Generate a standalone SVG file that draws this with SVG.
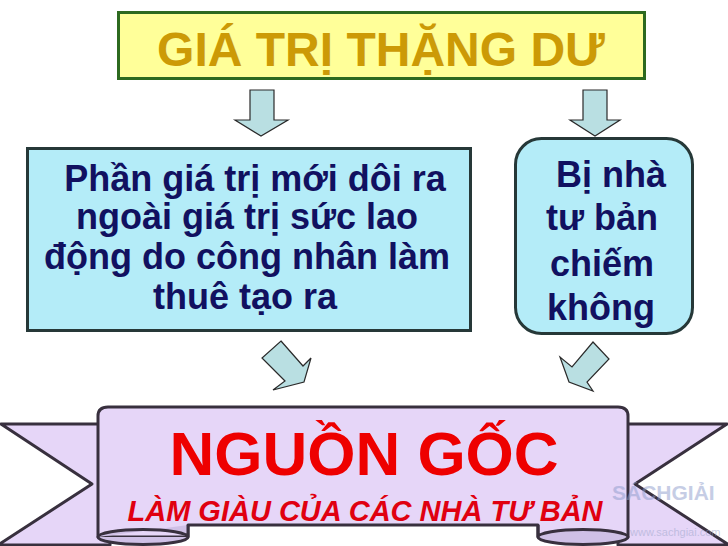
<svg xmlns="http://www.w3.org/2000/svg" width="728" height="546" viewBox="0 0 728 546">
<style>
.t{font-family:"Liberation Sans",Arial,sans-serif;font-weight:bold}
.box{fill:#b4ecf8;stroke:#263838;stroke-width:3}
.txt{fill:#111160;font-size:36px;text-anchor:middle}
.arr{fill:#b9dfe2;stroke:#2a2a2a;stroke-width:1.2;stroke-linejoin:miter}
.rib{fill:#e6d6f8;stroke:#38303e;stroke-width:3;stroke-linejoin:round}
.roll{fill:#cfc0e6;stroke:#38303e;stroke-width:3}
</style>
<rect width="728" height="546" fill="#ffffff"/>

<g id="title">
<rect x="118.5" y="12.5" width="526" height="66" fill="#ffff99" stroke="#2d6a1f" stroke-width="3"/>
<text class="t" x="381" y="66" font-size="48" fill="#cc9a06" text-anchor="middle">GIÁ TRỊ THẶNG DƯ</text>
</g>

<g id="connectors">
<polygon class="arr" points="250,90 274,90 274,120 288,120 261,136 235,120 250,120"/>
<polygon class="arr" points="583,90 607,90 607,120 620,120 595,136 570,120 583,120"/>
<polygon class="arr" points="281,341 303,366 311,358 304,382 273,390 285,381 262,358"/>
<polygon class="arr" points="593,342 609,359 587,382 593,391 569,382 560,357 572,367"/>
</g>

<g id="def">
<rect class="box" x="27.5" y="148.5" width="443" height="182"/>
<text class="t txt" x="255" y="191">Phần giá trị mới dôi ra</text>
<text class="t txt" x="247" y="229">ngoài giá trị sức lao</text>
<text class="t txt" x="247" y="269">động do công nhân làm</text>
<text class="t txt" x="245" y="309">thuê tạo ra</text>
</g>

<g id="owner">
<rect class="box" x="515.5" y="138.5" width="177" height="195" rx="26" ry="26"/>
<text class="t txt" x="611" y="187">Bị nhà</text>
<text class="t txt" x="602" y="230">tư bản</text>
<text class="t txt" x="602" y="276">chiếm</text>
<text class="t txt" x="601" y="320">không</text>
</g>

<g id="origin">
<polygon class="rib" points="1,424 110,424 110,545 -2,545 92,484"/>
<polygon class="rib" points="727,424 618,424 618,545 729,545 635,484"/>
<path class="rib" d="M98,537 L98,416 Q98,407 108,407 L618,407 Q628,407 628,416 L628,537 L538,537 L538,525 L188,525 L188,537 Z"/>
<path class="roll" d="M98,537 A45,7.5 0 0 0 188,537 L188,525 M98,537 A45,7.5 0 0 1 188,537"/>
<path class="roll" d="M538,537 A45,7.5 0 0 0 628,537 M538,537 A45,7.5 0 0 1 628,537 M538,525 L538,537"/>
<text class="t" x="364" y="475" font-size="62" fill="#ee0000" text-anchor="middle">NGUỒN GỐC</text>
<text class="t" x="365" y="521" font-size="29" font-style="italic" fill="#e00010" text-anchor="middle">LÀM GIÀU CỦA CÁC NHÀ TƯ BẢN</text>
</g>

<g id="watermark" opacity="0.5">
<text class="t" x="612" y="500" font-size="21" fill="#8e9ccc" font-weight="normal">SÁCHGIẢI</text>
<text x="630" y="536" font-family="'Liberation Sans',Arial,sans-serif" font-size="11" fill="#9aa4c8">www.sachgiai.com</text>
</g>
</svg>
